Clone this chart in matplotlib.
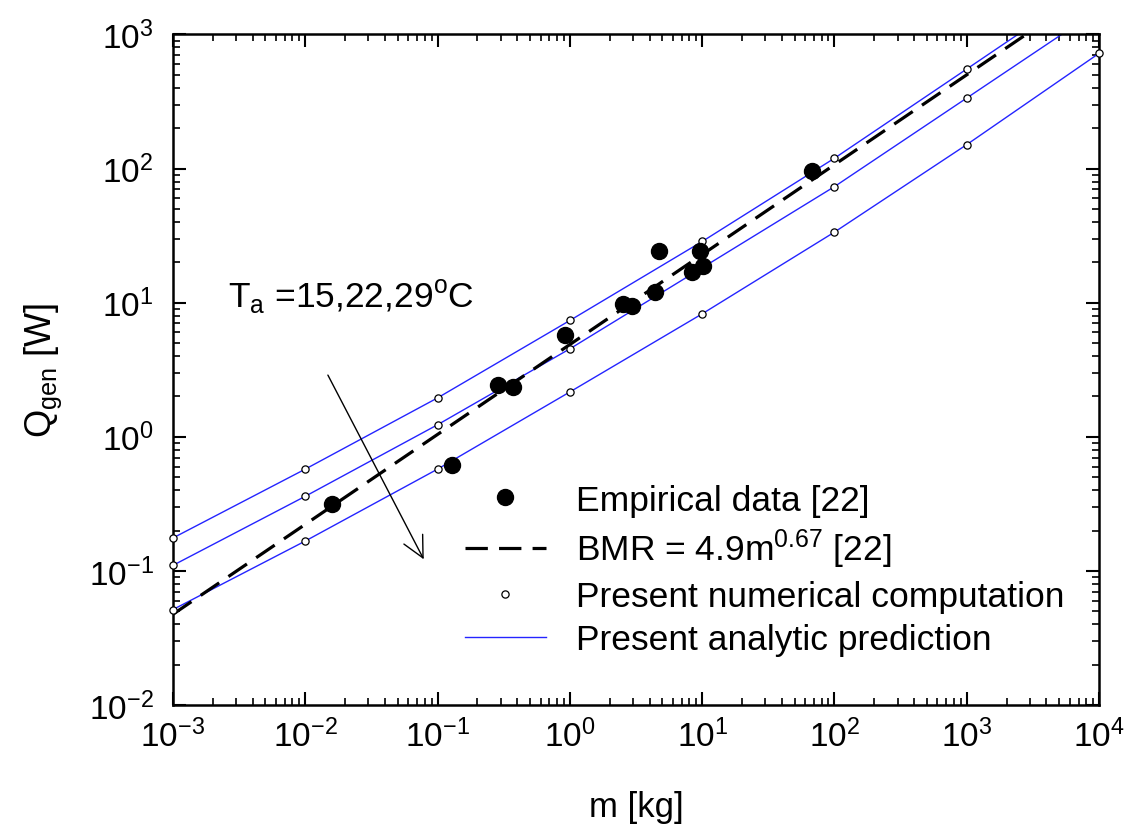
import numpy as np
import matplotlib
matplotlib.use("Agg")
import matplotlib.pyplot as plt

plt.rcParams["font.family"] = ["Liberation Sans", "DejaVu Sans"]
plt.rcParams["mathtext.fontset"] = "custom"
plt.rcParams["mathtext.rm"] = "Liberation Sans"
plt.rcParams["mathtext.it"] = "Liberation Sans:italic"
plt.rcParams["mathtext.bf"] = "Liberation Sans:bold"
plt.rcParams["axes.unicode_minus"] = False

# empirical data [22]
emp_m = [0.0158, 0.128, 0.288, 0.373, 0.918, 2.54, 2.93, 4.40, 4.71, 8.34, 9.62, 10.2, 67.6]
emp_q = [0.317, 0.612, 2.42, 2.35, 5.70, 9.81, 9.53, 12.0, 24.1, 16.9, 24.5, 18.9, 96.1]

# BMR = 4.9 m^0.67 [22], end points of the line
bmr_m = [1e-3, 1e4]
bmr_q = [0.0475, 2345]

# present model, Ta = 15, 22, 29 C
m_calc = [1e-3, 1e-2, 1e-1, 1, 10, 100, 1000, 1e4]
q_15 = [0.176, 0.574, 1.95, 7.37, 28.6, 119.5, 553, 2570]
q_22 = [0.110, 0.360, 1.23, 4.53, 18.2, 73.4, 336, 1540]
q_29 = [0.0515, 0.167, 0.574, 2.16, 8.26, 33.6, 151, 724]

ymin, ymax = 1e-2, 1e3

fig = plt.figure(figsize=(11.26, 8.37), dpi=100)
ax = fig.add_axes([0.1536, 0.1565, 0.8225, 0.8011])

blue = "#2424ff"
for q in [q_15, q_22, q_29]:
    ln_analytic, = ax.plot(m_calc, q, "-", color=blue, lw=1.0, zorder=2)

m_arr = np.array(m_calc)
for q in [q_15, q_22, q_29]:
    q_arr = np.array(q)
    keep = q_arr <= ymax
    ln_num, = ax.plot(m_arr[keep], q_arr[keep], "o", ms=5.2, mfc="white", mec="black",
                      mew=0.9, clip_on=False, zorder=4)

ln_bmr, = ax.plot(bmr_m, bmr_q, color="black", lw=2.3, dashes=(7, 3.5), zorder=3)
ln_emp, = ax.plot(emp_m, emp_q, "o", ms=11.5, color="black", zorder=5)

ax.set_xscale("log")
ax.set_yscale("log")
ax.set_xlim(1e-3, 1e4)
ax.set_ylim(ymin, ymax)

for s in ax.spines.values():
    s.set_linewidth(1.8)
ax.tick_params(which="both", direction="in", top=True, right=True)
ax.tick_params(which="major", length=9.5, width=1.5, labelsize=24)
ax.tick_params(which="minor", length=5, width=1.2)
ax.tick_params(axis="x", which="major", pad=10)
ax.tick_params(axis="y", which="major", pad=14)

ax.set_xlabel("m [kg]", fontsize=25, labelpad=26)
ax.set_ylabel(r"Q$_\mathregular{gen}$ [W]", fontsize=26, labelpad=18)

ax.text(0.0026, 9.3, r"T$_\mathregular{a}$ =15,22,29$^\mathregular{o}$C", fontsize=25.5,
        va="baseline", ha="left")
ax.annotate("", xy=(0.0804, 0.117), xytext=(0.0145, 3.01),
            arrowprops=dict(arrowstyle="->", color="black", lw=1.0,
                            mutation_scale=38))

ax.legend([ln_emp, ln_bmr, ln_num, ln_analytic],
          ["Empirical data [22]", r"BMR = 4.9m$^\mathregular{0.67}$ [22]",
           "Present numerical computation", "Present analytic prediction"],
          loc="upper left", bbox_to_anchor=(0.315, 0.33), frameon=False,
          fontsize=25.5, handlelength=2.3, handletextpad=0.85, labelspacing=0.28,
          borderpad=0, borderaxespad=0)

fig.savefig("out.png", dpi=100)
